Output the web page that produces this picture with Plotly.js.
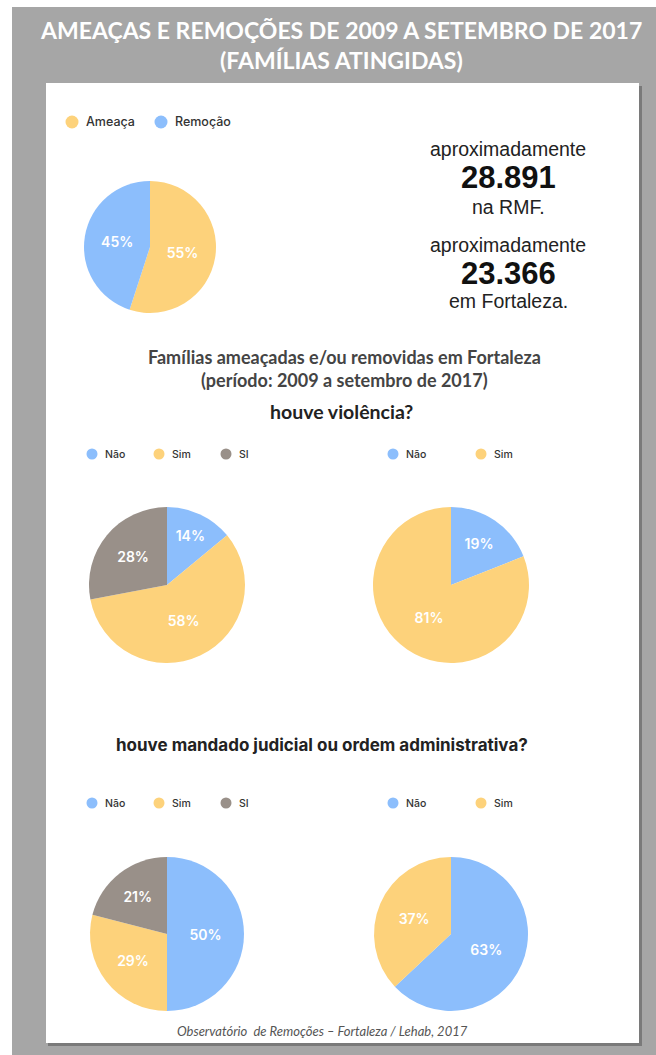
<!DOCTYPE html>
<html><head><meta charset="utf-8">
<script src="https://cdn.plot.ly/plotly-3.0.1.min.js"></script>
<style>html,body{margin:0;padding:0;background:#fff;}#chart{width:656px;height:1055px;}</style>
</head><body><div id="chart"></div>
<script>
// ---- data ----
const topLabels = ['Ameaça', 'Remoção'];
const topValues = [55, 45];
const violLeftLabels = ['Não', 'Sim', 'SI'];
const violLeftValues = [14, 58, 28];
const violRightLabels = ['Não', 'Sim'];
const violRightValues = [19, 81];
const mandLeftLabels = ['Não', 'Sim', 'SI'];
const mandLeftValues = [50, 29, 21];
const mandRightLabels = ['Não', 'Sim'];
const mandRightValues = [63, 37];
const statRMF = '28.891';
const statFortaleza = '23.366';

// ---- styling ----
const W = 656, H = 1055;
const X = p => p / W, Y = p => 1 - p / H;
const YELLOW = '#FDD27B', BLUE = '#8CBEFC', GRAY = '#999089';
const colorOf = {'Ameaça': YELLOW, 'Remoção': BLUE, 'Não': BLUE, 'Sim': YELLOW, 'SI': GRAY};

function pie(labels, values, cx, cy, r, fs) {
  return {
    type: 'pie', labels: labels, values: values, sort: false,
    direction: 'clockwise', rotation: 0,
    marker: {colors: labels.map(l => colorOf[l])},
    texttemplate: '%{value}%', textposition: 'inside', insidetextorientation: 'horizontal',
    textfont: {color: '#ffffff', family: 'Inter, sans-serif', size: fs, weight: 600},
    hoverinfo: 'none', showlegend: false,
    domain: {x: [X(cx - r), X(cx + r)], y: [Y(cy + r), Y(cy - r)]}
  };
}

const data = [
  pie(topLabels, topValues, 150, 247, 66, 14),
  pie(violLeftLabels, violLeftValues, 167, 585, 78, 14),
  pie(violRightLabels, violRightValues, 451, 585, 78, 14),
  pie(mandLeftLabels, mandLeftValues, 167, 934, 77, 14),
  pie(mandRightLabels, mandRightValues, 451, 934, 77, 14)
];

const shapes = [
  {type:'rect', xref:'paper', yref:'paper', x0:0, x1:X(12), y0:0, y1:1, fillcolor:'#ffffff', line:{width:0}, layer:'below'},
  {type:'rect', xref:'paper', yref:'paper', x0:0, x1:1, y0:Y(7), y1:1, fillcolor:'#ffffff', line:{width:0}, layer:'below'},
  {type:'rect', xref:'paper', yref:'paper', x0:X(48), x1:X(642), y0:Y(1046), y1:Y(86), fillcolor:'#7a7a7a', line:{width:0}, layer:'below'},
  {type:'rect', xref:'paper', yref:'paper', x0:X(46), x1:X(639), y0:Y(1043), y1:Y(83), fillcolor:'#ffffff', line:{width:0}, layer:'below'}
];
const annotations = [];

function legend(items, xs, y, fs, rad) {
  items.forEach((lab, i) => {
    shapes.push({type:'circle', xref:'paper', yref:'paper', xsizemode:'pixel', ysizemode:'pixel',
      xanchor: X(xs[i]), yanchor: Y(y), x0:-rad, x1:rad, y0:-rad, y1:rad,
      fillcolor: colorOf[lab], line:{width:0}});
    annotations.push({text: lab, xref:'paper', yref:'paper', x: X(xs[i] + rad + 5), y: Y(y),
      xanchor:'left', yanchor:'middle', showarrow:false,
      font:{family:'Inter, sans-serif', size: fs, color:'#333333', weight:500}});
  });
}
legend(topLabels, [72, 161], 122, 12.5, 6.5);
legend(violLeftLabels, [92, 159, 226], 454, 10.5, 5.5);
legend(violRightLabels, [393, 481], 454, 10.5, 5.5);
legend(mandLeftLabels, [92, 159, 226], 803, 10.5, 5.5);
legend(mandRightLabels, [393, 481], 803, 10.5, 5.5);

function txt(t, x, y, font) {
  annotations.push({text: t, xref:'paper', yref:'paper', x: X(x), y: Y(y),
    xanchor:'center', yanchor:'middle', showarrow:false, font: font});
}
const titleFont = {family:'Lato, sans-serif', size:23, color:'#ffffff', weight:700};
txt('AMEAÇAS E REMOÇÕES DE 2009 A SETEMBRO DE 2017', 341, 30, titleFont);
txt('(FAMÍLIAS ATINGIDAS)', 341, 60, titleFont);

const helv = {family:'Liberation Sans, Arial, sans-serif', size:19.5, color:'#222222'};
const helvB = {family:'Liberation Sans, Arial, sans-serif', size:31, color:'#111111', weight:700};
txt('aproximadamente', 508, 149, helv);
txt(statRMF, 508, 178, helvB);
txt('na RMF.', 508, 207, helv);
txt('aproximadamente', 508, 245, helv);
txt(statFortaleza, 508, 273, helvB);
txt('em Fortaleza.', 508, 301, helv);

const subFont = {family:'Lato, sans-serif', size:18, color:'#444444', weight:700};
txt('Famílias ameaçadas e/ou removidas em Fortaleza', 344, 357, subFont);
txt('(período: 2009 a setembro de 2017)', 344, 380, subFont);
txt('houve violência?', 341, 411, {family:'Lato, sans-serif', size:19.5, color:'#222222', weight:700});
txt('houve mandado judicial ou ordem administrativa?', 322, 745, {family:'Inter, sans-serif', size:17, color:'#222222', weight:700});
txt('Observatório  de Remoções – Fortaleza / Lehab, 2017', 322, 1031, {family:'Lato, sans-serif', size:13, color:'#555555', style:'italic'});

const layout = {
  width: W, height: H, margin:{l:0, r:0, t:0, b:0, pad:0},
  paper_bgcolor:'#a6a6a6', plot_bgcolor:'#a6a6a6',
  showlegend:false, shapes: shapes, annotations: annotations
};
Plotly.newPlot('chart', data, layout, {staticPlot:true, displayModeBar:false});
</script></body></html>
